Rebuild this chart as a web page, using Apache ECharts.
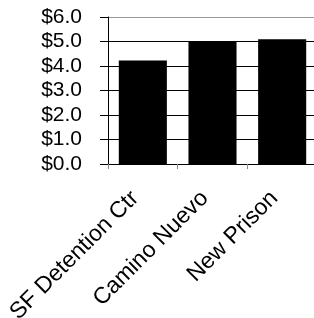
<!DOCTYPE html>
<html>
<head>
<meta charset="utf-8">
<script src="https://cdn.jsdelivr.net/npm/echarts@6/dist/echarts.min.js"></script>
<style>
  html, body { margin: 0; padding: 0; background: #fff; }
  #chart-box { width: 314px; height: 318px; }
</style>
</head>
<body>
<div id="chart-box"></div>
<script>
// data
var categories = ["SF Detention Ctr", "Camino Nuevo", "New Prison"];
var costs = [4.22, 5.0, 5.09];
var yTicks = [0, 1, 2, 3, 4, 5, 6];

var font = "Arial, 'Liberation Sans', sans-serif";

var myChart = echarts.init(document.getElementById("chart-box"));
var option = {
    animation: false,
    grid: { left: 108, top: 17, right: -3, bottom: 154, outerBoundsMode: "none" },
    xAxis: {
        type: "category",
        data: categories,
        axisLine: { lineStyle: { color: "#000", width: 1 } },
        axisTick: { show: true, length: 5, lineStyle: { color: "#888" } },
        axisLabel: {
            rotate: 45,
            interval: 0,
            margin: 23,
            padding: [0, 11, 0, 0],
            color: "#000",
            fontSize: 23,
            fontFamily: font
        }
    },
    yAxis: {
        type: "value",
        min: yTicks[0],
        max: yTicks[yTicks.length - 1],
        interval: 1,
        axisLine: { show: true, lineStyle: { color: "#000" } },
        axisTick: { show: true, length: 8, lineStyle: { color: "#000" } },
        axisLabel: {
            margin: 26,
            color: "#000",
            fontSize: 21,
            fontFamily: font,
            formatter: function (v) { return "$" + v.toFixed(1); }
        },
        splitLine: {
            lineStyle: { color: ["#000", "#000", "#000", "#000", "#000", "#000", "#999"], width: 1 }
        }
    },
    series: [
        {
            type: "bar",
            data: costs,
            barCategoryGap: "31%",
            itemStyle: { color: "#000" }
        }
    ]
};
myChart.setOption(option);
</script>
</body>
</html>
